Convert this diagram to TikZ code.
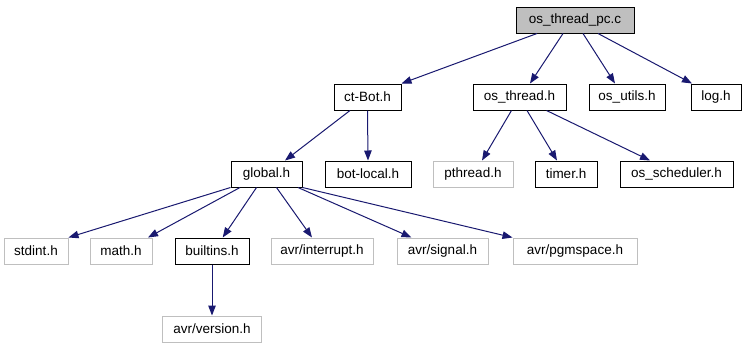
\documentclass[tikz,border=0pt]{standalone}
\usepackage{fontspec}
\setmainfont{Liberation Sans}
\usetikzlibrary{arrows.meta,scopes}
\definecolor{edgeblue}{HTML}{191970}
\definecolor{boxgray}{HTML}{BFBFBF}
\begin{document}
\begin{tikzpicture}[x=1pt,y=-1pt,
    hfile/.style={draw=black,line width=1pt,minimum height=26pt,inner sep=0pt,
      font=\fontsize{13.5}{16}\selectfont},
    sysfile/.style={hfile,draw=boxgray},
    mainfile/.style={hfile,fill=boxgray},
    incl/.style={draw=edgeblue,line width=1pt,-{Triangle[length=10pt,width=7.5pt]}}]
  \fill[white] (0,0) rectangle (747,349);
  \useasboundingbox (0,0) rectangle (747,349);
  % source file
  \node[mainfile,minimum width=118pt] (pc) at (575,20) {os\_thread\_pc.c};
  % first level of includes
  \node[hfile,minimum width=67pt]  (ctbot)    at (367.5,97) {ct-Bot.h};
  \node[hfile,minimum width=93pt]  (osthread) at (519.5,97) {os\_thread.h};
  \node[hfile,minimum width=76pt]  (osutils)  at (627,97)   {os\_utils.h};
  \node[hfile,minimum width=50pt]  (log)      at (716,97)   {log.h};
  % second level
  \node[hfile,minimum width=71pt]    (global)   at (266.5,174) {global.h};
  \node[hfile,minimum width=86pt]    (botlocal) at (368,174)   {bot-local.h};
  \node[sysfile,minimum width=80pt]  (pthread)  at (473,174)   {pthread.h};
  \node[hfile,minimum width=62pt]    (timer)    at (566,174)   {timer.h};
  \node[hfile,minimum width=113pt]   (sched)    at (676.5,174) {os\_scheduler.h};
  % headers pulled in by global.h
  \node[sysfile,minimum width=64pt]  (stdint)    at (36,251)    {stdint.h};
  \node[sysfile,minimum width=62pt]  (math)      at (121,251)   {math.h};
  \node[hfile,minimum width=74pt]    (builtins)  at (212,251)   {builtins.h};
  \node[sysfile,minimum width=102pt] (interrupt) at (322,251)   {avr/interrupt.h};
  \node[sysfile,minimum width=91pt]  (signal)    at (442.5,251) {avr/signal.h};
  \node[sysfile,minimum width=124pt] (pgmspace)  at (575,251)   {avr/pgmspace.h};
  \node[sysfile,minimum width=99pt]  (version)   at (212,329)   {avr/version.h};

  % include edges
  \draw[incl] ([xshift=-38pt]pc.south) -- (ctbot.north east);
  \draw[incl] ([xshift=-12pt]pc.south) -- ([xshift=10.5pt]osthread.north);
  \draw[incl] ([xshift=8pt]pc.south)   -- ([xshift=-12pt]osutils.north);
  \draw[incl] ([xshift=23pt]pc.south)  -- ([xshift=-24pt]log.north);

  \draw[incl] ([xshift=-17.5pt]ctbot.south) -- ([xshift=18.5pt]global.north);
  \draw[incl] (ctbot.south) -- (botlocal.north);

  \draw[incl] ([xshift=-8pt]osthread.south)  -- ([xshift=9pt]pthread.north);
  \draw[incl] ([xshift=7.5pt]osthread.south) -- ([xshift=-9pt]timer.north);
  \draw[incl] ([xshift=27pt]osthread.south)  -- ([xshift=-26.5pt]sched.north);

  \draw[incl] (global.south west) -- (stdint.north east);
  \foreach \dst/\s/\e in {math/-26.5/27,builtins/-10/10.7,interrupt/10/-10,signal/31.5/-31}
    \draw[incl] ([xshift=\s pt]global.south) -- ([xshift=\e pt]\dst.north);
  \draw[incl] (global.south east) -- (pgmspace.north west);

  \draw[incl] (builtins.south) -- (version.north);
\end{tikzpicture}
\end{document}
